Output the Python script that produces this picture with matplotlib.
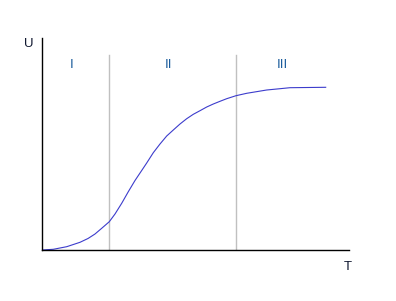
import matplotlib
matplotlib.use("Agg")
import matplotlib.pyplot as plt

# Curve (T, U units: pixel offsets from origin)
t_vals = [0, 11.3, 24.7, 38, 46, 53, 59.7, 67.3, 73, 79.7, 86.3, 93, 99.7, 104.7, 111.3, 118, 124.7,
          131.3, 138, 144.7, 151.3, 158, 164.7, 171.3, 178, 184.7, 194, 204.7, 224.7,
          238, 248, 283.7]
u_vals = [0, 0.7, 3.3, 7.7, 11.5, 16, 21.7, 28.3, 36, 46.7, 58.3, 69.5, 79.5, 87, 97.3, 106, 114,
          120, 126, 131.3, 135.7, 139.3, 143, 146, 148.7, 151.3, 154.3, 156.7, 160,
          161.3, 162.3, 162.7]

region_bounds = [67, 194]
region_labels = ["I", "II", "III"]
region_label_x = [29.7, 127, 240]

fig = plt.figure(figsize=(3.96, 3.01), dpi=100)
ax = fig.add_axes([42/396, 51/301, 307/396, 212/301])
ax.set_xlim(0, 307)
ax.set_ylim(0, 212)

for b in region_bounds:
    ax.plot([b, b], [0, 195], color="#c0c0c0", lw=1.0, zorder=1)

ax.plot(t_vals, u_vals, color="#3c3ccc", lw=0.8, zorder=2)

for lx, lab in zip(region_label_x, region_labels):
    ax.text(lx, 185.5, lab, ha="center", va="center", fontsize=9.5,
            family="Liberation Sans", color="#1b5c9c")

for s in ["top", "right"]:
    ax.spines[s].set_visible(False)
for s in ["left", "bottom"]:
    ax.spines[s].set_linewidth(1.0)
    ax.spines[s].set_color("black")
ax.set_xticks([])
ax.set_yticks([])

fig.text(29/396, 1 - 44/301, "U", ha="center", va="center", fontsize=9.5,
         family="Liberation Sans", color="#101830")
fig.text(348/396, 1 - 267/301, "T", ha="center", va="center", fontsize=9.5,
         family="Liberation Sans", color="#101830")

fig.savefig("out.png", dpi=100)
